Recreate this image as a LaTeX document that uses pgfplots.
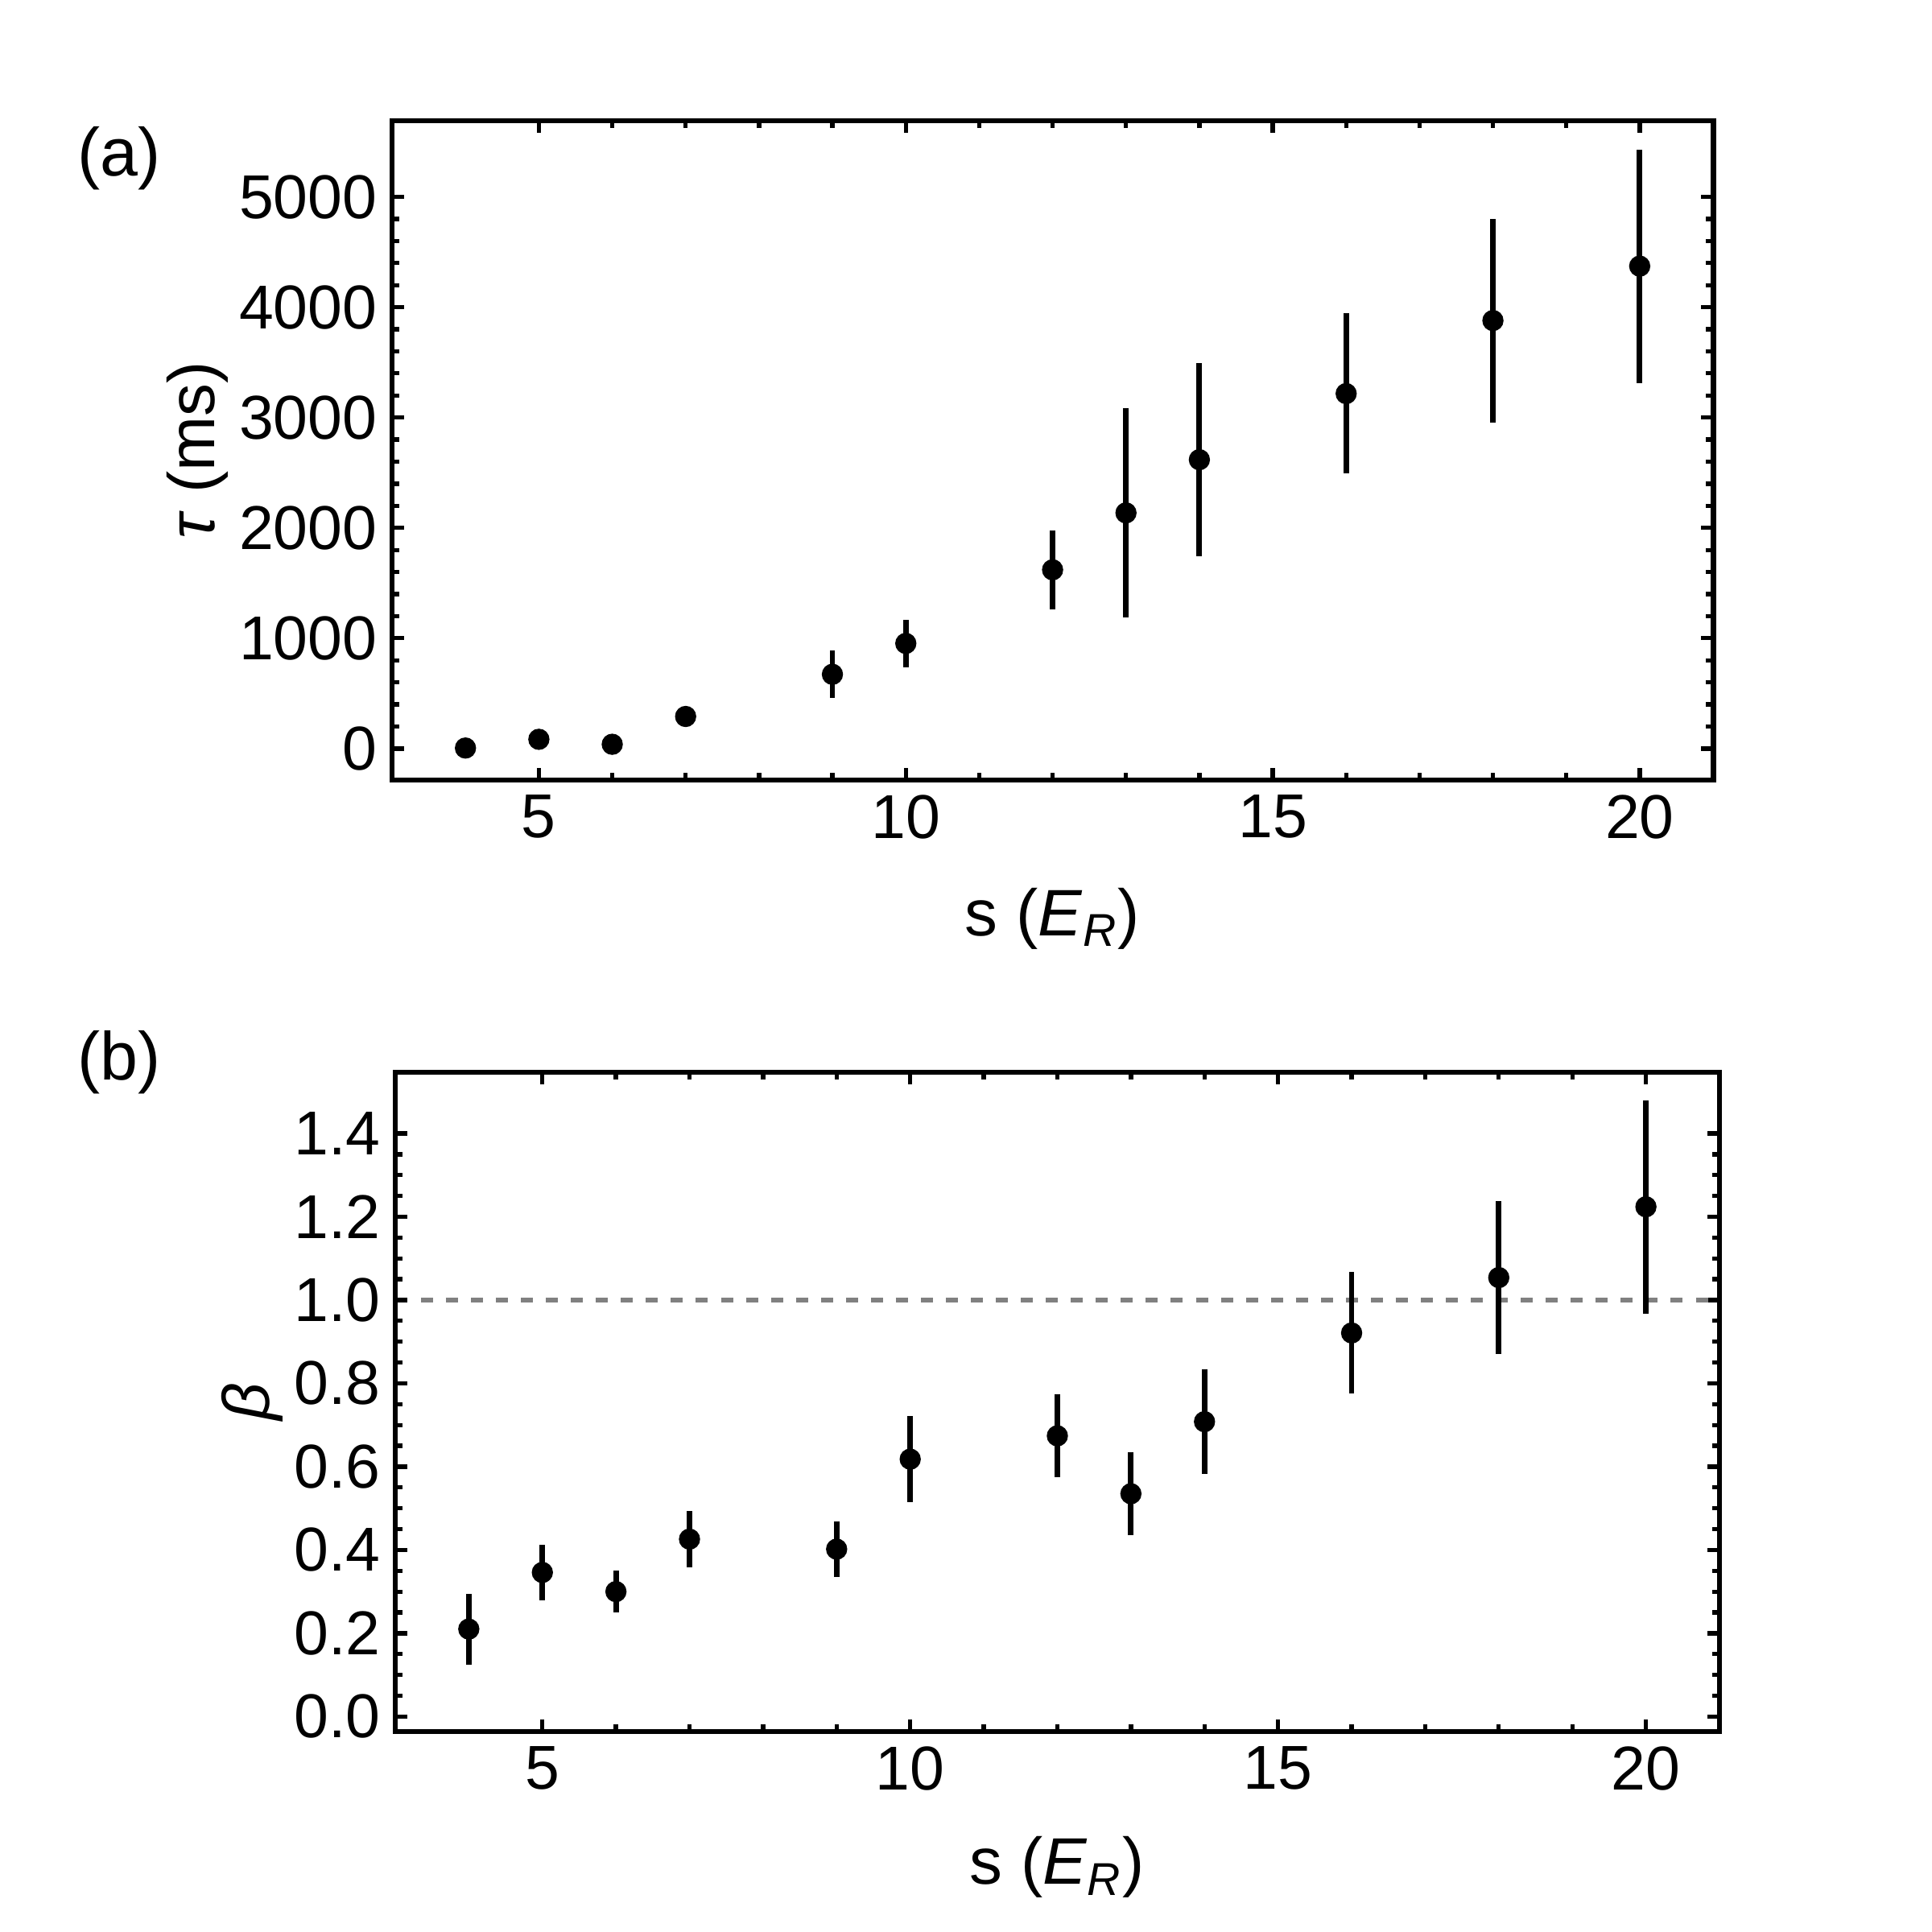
\documentclass[border=0pt]{standalone}
\usepackage{fontspec}
\setmainfont{Liberation Sans}
\usepackage{pgfplots}
\pgfplotsset{compat=1.18}

\pgfplotstableread{
x y e
4 5 0
5 84 0
6 39 0
7 291 70
9 673 213
10 953 215
12 1620 355
13 2136 950
14 2618 877
16 3217 726
18 3879 922
20 4372 1057
}\tautable

\pgfplotstableread{
x y e
4 0.210 0.085
5 0.346 0.067
6 0.300 0.050
7 0.426 0.068
9 0.402 0.066
10 0.618 0.103
12 0.674 0.100
13 0.535 0.099
14 0.708 0.125
16 0.921 0.146
18 1.054 0.184
20 1.224 0.256
}\betatable

\pgfplotsset{
  myax/.style={
    scale only axis,
    axis line style={line width=1.3pt},
    every tick/.style={line width=1.0pt, black},
    major tick length=0.1cm,
    minor tick length=0.06cm,
    tick align=inside,
    xmin=3, xmax=21,
    xtick={5,10,15,20},
    minor x tick num=4,
    /pgf/number format/assume math mode=true,
    tick label style={font=\fontsize{14.6}{18}\selectfont},
    label style={font=\fontsize{15.5}{18}\selectfont},
    xlabel={s (\textit{E}\textsubscript{\textit{R}})},
  },
  mydots/.style={only marks, mark=*, mark size=2.3pt, black,
    error bars/.cd, y dir=both, y explicit, error mark=none,
    error bar style={line width=1.3pt, black}},
}

\begin{document}
\begin{tikzpicture}
\path[use as bounding box] (0,0) rectangle (16cm,16cm);

\begin{axis}[myax,
  at={(3.247cm,9.54cm)}, anchor=south west,
  width=10.94cm, height=5.46cm,
  ymin=-285, ymax=5690,
  ytick={0,1000,2000,3000,4000,5000},
  minor y tick num=4,
  scaled y ticks=false,
  yticklabel style={/pgf/number format/1000 sep={}},
  ylabel={\textit{τ} (ms)},
  ylabel style={at={(axis description cs:-0.147,0.5)}, anchor=center, rotate=0},
  xlabel style={at={(axis description cs:0.5,-0.21)}, anchor=center},
]
\addplot[mydots] table[x=x, y=y, y error=e] {\tautable};
\end{axis}

\begin{axis}[myax,
  at={(3.273cm,1.66cm)}, anchor=south west,
  width=10.967cm, height=5.46cm,
  ymin=-0.036, ymax=1.547,
  ytick={0,0.2,0.4,0.6,0.8,1.0,1.2,1.4},
  minor y tick num=3,
  yticklabel style={/pgf/number format/fixed, /pgf/number format/fixed zerofill, /pgf/number format/precision=1},
  ylabel={\textit{β}},
  ylabel style={at={(axis description cs:-0.108,0.5)}, anchor=center, rotate=0},
  xlabel style={at={(axis description cs:0.5,-0.206)}, anchor=center},
]
\addplot[gray, line width=1.3pt, dash pattern=on 0.1cm off 0.107cm, dash phase=0.0cm] coordinates {(3.35,1) (21,1)};
\addplot[mydots] table[x=x, y=y, y error=e] {\betatable};
\end{axis}

\node[font=\fontsize{16}{19}\selectfont] at (0.987cm,14.69cm) {(a)};
\node[font=\fontsize{16}{19}\selectfont] at (0.987cm,7.2cm) {(b)};
\end{tikzpicture}
\end{document}
